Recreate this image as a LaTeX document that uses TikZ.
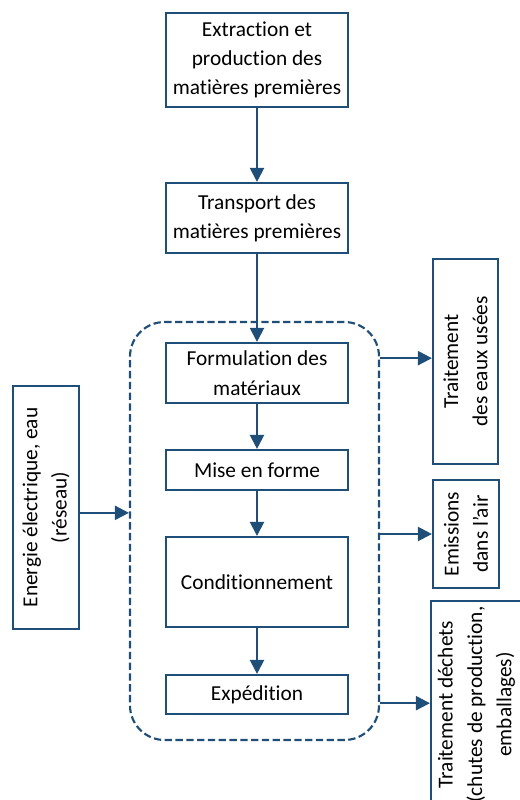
\documentclass[tikz,border=0pt]{standalone}
\usepackage{fontspec}
\setmainfont{Carlito}[Ligatures=NoCommon]
\usepackage{tikz}
\usetikzlibrary{arrows.meta,positioning}
\definecolor{bleufonce}{HTML}{1F4E79}

\begin{document}
\begin{tikzpicture}[x=0.75pt,y=-0.75pt,
    font=\fontsize{16}{22}\selectfont,
    etape/.style={rectangle, draw=bleufonce, line width=1.6pt, align=center, inner sep=2pt, minimum width=136.5pt},
    cote/.style={rectangle, draw=bleufonce, line width=1.6pt, align=center, inner sep=2pt, rotate=90},
    fleche/.style={draw=bleufonce, line width=1.6pt, -{Triangle[length=10.5pt,width=10.5pt]}},
    node distance=33.65pt]
  \clip (0,0) rectangle (520,800);
  % chaine principale
  \node[etape, minimum height=70.5pt] (extr) at (257,60) {Extraction et\\production des\\matières premières};
  \node[etape, minimum height=52.5pt, below=55.4pt of extr] (transp) {Transport des\\matières premières};
  \node[etape, minimum height=45pt, below=65.9pt of transp] (form) {Formulation des\\matériaux};
  \node[etape, minimum height=30pt, below=of form] (mise) {Mise en forme};
  \node[etape, minimum height=67.5pt, below=of mise] (cond) {Conditionnement};
  \node[etape, minimum height=29.25pt, below=34.4pt of cond] (exped) {Expédition};
  % usine (cadre pointille)
  \node[draw=bleufonce, line width=1.6pt, dash pattern=on 5.5pt off 2.6pt, rounded corners=26pt,
        minimum width=186.75pt, minimum height=313.5pt] (usine) at (254.5,531) {};
  % entrees et sorties
  \node[cote, minimum width=182.25pt, minimum height=49.5pt] (energie) at (46,507.5) {Energie électrique, eau\\(réseau)};
  \node[cote, minimum width=153.75pt, minimum height=48.75pt] (eaux) at (465.5,361.5) {Traitement\\des eaux usées};
  \node[cote, minimum width=81pt, minimum height=49.5pt] (emis) at (466,534) {Emissions\\dans l’air};
  \node[cote, minimum width=155.25pt, minimum height=68.25pt] (dechets) at (476.5,704.5) {Traitement déchets\\(chutes de production,\\emballages)};
  \draw[fleche] (extr) -- (transp);
  \draw[fleche] (transp) -- (form);
  \draw[fleche] (form) -- (mise);
  \draw[fleche] (mise) -- (cond);
  \draw[fleche] (cond) -- (exped);
  \draw[fleche] ([yshift=-4pt]energie.south) -- ([yshift=-4pt]energie.south -| usine.west);
  \draw[fleche] ([yshift=2.5pt]usine.east |- eaux) -- ([yshift=2.5pt]eaux.north);
  \draw[fleche] (usine.east |- emis) -- (emis);
  \draw[fleche] ([yshift=1pt]usine.east |- dechets) -- ([yshift=1pt]dechets.north);
\end{tikzpicture}
\end{document}
